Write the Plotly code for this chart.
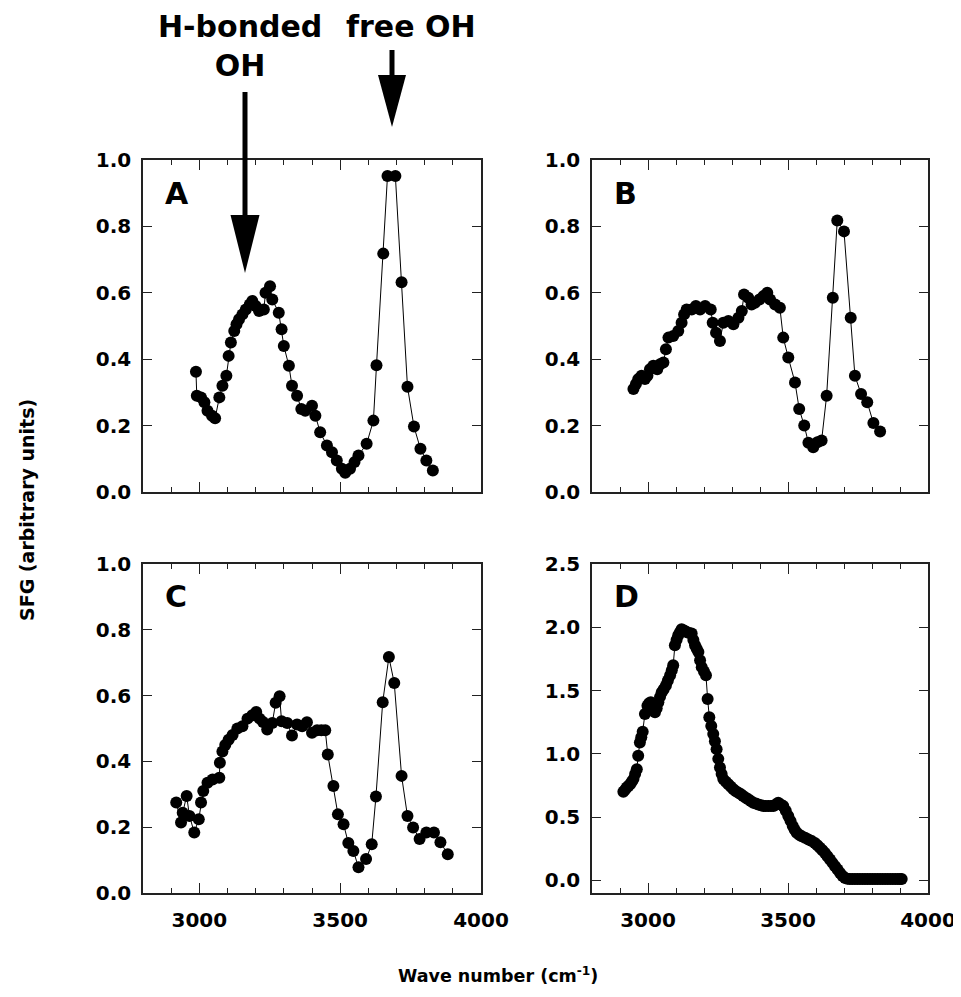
import plotly.graph_objects as go
from plotly.subplots import make_subplots

# ---------------- data ----------------
a_wn = [2988, 2991, 3006, 3018, 3029, 3045, 3056, 3071, 3082, 3096, 3104, 3112, 3124, 3132,
        3141, 3153, 3165, 3179, 3188, 3200, 3212, 3229, 3235, 3251, 3259, 3282, 3292, 3300,
        3318, 3329, 3347, 3362, 3376, 3400, 3412, 3429, 3453, 3471, 3488, 3506, 3518, 3535,
        3551, 3565, 3594, 3618, 3629, 3653, 3668, 3696, 3718, 3739, 3762, 3785, 3806, 3829]
a_val = [0.362, 0.29, 0.285, 0.27, 0.245, 0.23, 0.222, 0.285, 0.32, 0.35, 0.41, 0.45, 0.485, 0.505,
         0.52, 0.535, 0.55, 0.565, 0.575, 0.56, 0.545, 0.55, 0.60, 0.62, 0.58, 0.54, 0.49, 0.44,
         0.38, 0.32, 0.29, 0.25, 0.245, 0.26, 0.23, 0.18, 0.14, 0.12, 0.095, 0.07, 0.058, 0.07,
         0.09, 0.11, 0.145, 0.215, 0.382, 0.718, 0.952, 0.952, 0.632, 0.317, 0.197, 0.13, 0.095, 0.065]

b_wn = [2948, 2957, 2965, 2977, 2989, 2998, 3007, 3019, 3033, 3043, 3055, 3064, 3073, 3090,
        3108, 3120, 3129, 3138, 3156, 3171, 3186, 3204, 3224, 3231, 3243, 3257, 3269, 3287,
        3305, 3323, 3335, 3343, 3358, 3370, 3382, 3398, 3412, 3426, 3436, 3454, 3471, 3483,
        3501, 3525, 3540, 3558, 3573, 3590, 3605, 3620, 3638, 3660, 3676, 3700, 3724, 3739,
        3761, 3783, 3805, 3829]
b_val = [0.31, 0.325, 0.34, 0.35, 0.34, 0.35, 0.37, 0.38, 0.37, 0.385, 0.39, 0.43, 0.465, 0.47,
         0.485, 0.51, 0.535, 0.55, 0.55, 0.56, 0.55, 0.56, 0.55, 0.51, 0.48, 0.455, 0.51, 0.515,
         0.505, 0.525, 0.545, 0.595, 0.585, 0.565, 0.57, 0.58, 0.59, 0.60, 0.58, 0.565, 0.555, 0.465,
         0.405, 0.33, 0.25, 0.20, 0.148, 0.135, 0.15, 0.155, 0.29, 0.585, 0.818, 0.785, 0.525, 0.35,
         0.295, 0.27, 0.208, 0.182]

c_wn = [2918, 2935, 2941, 2955, 2965, 2982, 2998, 3006, 3014, 3029, 3047, 3071, 3073, 3082,
        3092, 3104, 3118, 3135, 3153, 3171, 3188, 3202, 3214, 3226, 3241, 3259, 3271, 3285,
        3292, 3312, 3329, 3347, 3365, 3382, 3400, 3418, 3433, 3447, 3456, 3476, 3492, 3512,
        3529, 3547, 3565, 3592, 3612, 3627, 3651, 3673, 3692, 3718, 3739, 3759, 3782, 3806,
        3833, 3856, 3882]
c_val = [0.275, 0.214, 0.244, 0.295, 0.234, 0.184, 0.224, 0.275, 0.31, 0.335, 0.345, 0.35, 0.396, 0.43,
         0.45, 0.466, 0.48, 0.50, 0.507, 0.53, 0.54, 0.55, 0.53, 0.52, 0.497, 0.517, 0.578, 0.598,
         0.522, 0.517, 0.479, 0.512, 0.507, 0.519, 0.487, 0.495, 0.495, 0.495, 0.421, 0.325, 0.239, 0.209,
         0.152, 0.128, 0.078, 0.103, 0.148, 0.293, 0.58, 0.717, 0.638, 0.356, 0.234, 0.199, 0.164, 0.184,
         0.184, 0.154, 0.118]

d_wn = [2912, 2918, 2924, 2930, 2936, 2942, 2948, 2954, 2960, 2965, 2971, 2976, 2981, 2989,
        2998, 3004, 3010, 3017, 3025, 3031, 3037, 3043, 3049, 3056, 3064, 3071, 3079, 3085,
        3090, 3096, 3102, 3108, 3114, 3120, 3129, 3138, 3147, 3156, 3162, 3168, 3174, 3180,
        3186, 3192, 3200, 3207, 3213, 3219, 3226, 3233, 3239, 3245, 3251, 3257, 3263, 3269,
        3278, 3287, 3296, 3305, 3314, 3323, 3332, 3340, 3349, 3358, 3367, 3376, 3385, 3394,
        3403, 3412, 3421, 3430, 3439, 3448, 3456, 3465, 3474, 3483, 3492, 3501, 3509, 3517,
        3524, 3531, 3540, 3549, 3561, 3573, 3585, 3596, 3605, 3614, 3623, 3632, 3641, 3650,
        3659, 3668, 3677, 3686, 3695, 3704, 3712, 3721, 3730, 3739, 3748, 3757, 3766, 3775,
        3784, 3793, 3802, 3811, 3820, 3829, 3838, 3847, 3856, 3865, 3874, 3883, 3892, 3900, 3906]
d_val = [0.70, 0.715, 0.733, 0.745, 0.76, 0.78, 0.80, 0.84, 0.878, 0.984, 1.09, 1.13, 1.175, 1.315,
         1.38, 1.40, 1.407, 1.37, 1.328, 1.36, 1.407, 1.45, 1.487, 1.51, 1.54, 1.58, 1.62, 1.66,
         1.70, 1.857, 1.90, 1.937, 1.96, 1.984, 1.975, 1.963, 1.955, 1.95, 1.90, 1.857, 1.83, 1.804,
         1.74, 1.685, 1.65, 1.62, 1.434, 1.288, 1.22, 1.156, 1.10, 1.037, 0.96, 0.892, 0.84, 0.80,
         0.78, 0.76, 0.74, 0.72, 0.705, 0.693, 0.68, 0.667, 0.653, 0.64, 0.627, 0.614, 0.607, 0.60,
         0.594, 0.587, 0.587, 0.587, 0.587, 0.587, 0.60, 0.614, 0.60, 0.587, 0.55, 0.508, 0.47, 0.429,
         0.40, 0.376, 0.36, 0.349, 0.336, 0.323, 0.31, 0.296, 0.277, 0.257, 0.237, 0.217, 0.19, 0.164,
         0.138, 0.111, 0.085, 0.058, 0.035, 0.018, 0.012, 0.01, 0.01, 0.01, 0.01, 0.01, 0.01, 0.01,
         0.01, 0.01, 0.01, 0.01, 0.01, 0.01, 0.01, 0.01, 0.01, 0.01, 0.01, 0.01, 0.01, 0.01, 0.01]

panels = [("A", a_wn, a_val), ("B", b_wn, b_val), ("C", c_wn, c_val), ("D", d_wn, d_val)]
y_ranges = [[0, 1], [0, 1], [0, 1], [-0.1, 2.5]]
y_dticks = [0.2, 0.2, 0.2, 0.5]
x_range = [2800, 4000]
x_ticks = [3000, 3500, 4000]

# ---------------- figure ----------------
WIN_W, WIN_H = 961, 997
OFF = 8                      # default page body margin
FW, FH = WIN_W - OFF, WIN_H - OFF
FONT = "DejaVu Sans"


def px(xp):
    """window pixel -> paper fraction"""
    return (xp - OFF) / FW


def py(yp):
    return 1 - (yp - OFF) / FH


fig = make_subplots(rows=2, cols=2)

for i, (name, wn, val) in enumerate(panels):
    r, c = i // 2 + 1, i % 2 + 1
    fig.add_trace(go.Scatter(x=wn, y=val, mode="lines+markers",
                             line=dict(color="black", width=1),
                             marker=dict(color="black", size=12),
                             showlegend=False), row=r, col=c)

xdom = [[px(143), px(481)], [px(592), px(928)]]
ydom = [[py(492), py(160)], [py(893), py(564)]]

axis_common = dict(showgrid=False, zeroline=False, showline=True, linecolor="#222",
                   linewidth=1.5, mirror="ticks", ticks="inside", tickcolor="#222",
                   tickwidth=1.3, automargin=False)
tickfont = dict(family=FONT, size=20, color="black", weight="bold")

for i in range(4):
    r, c = i // 2, i % 2
    suffix = "" if i == 0 else str(i + 1)
    fig.layout["xaxis" + suffix].update(
        domain=xdom[c], range=x_range, tickvals=x_ticks, ticklen=10,
        showticklabels=(r == 1), tickfont=tickfont, ticklabelstandoff=8,
        minor=dict(dtick=100, tick0=2800, ticklen=5, ticks="inside", tickcolor="#222",
                   tickwidth=1.2, showgrid=False),
        **axis_common)
    fig.layout["yaxis" + suffix].update(
        domain=ydom[r], range=y_ranges[i], dtick=y_dticks[i], tick0=0, ticklen=9,
        tickformat=".1f", tickfont=tickfont, ticklabelstandoff=6,
        **axis_common)
    fig.add_annotation(text=panels[i][0], xref=f"x{suffix} domain", yref=f"y{suffix} domain",
                       x=0.06, y=0.90, xanchor="left", yanchor="middle", showarrow=False,
                       font=dict(family=FONT, size=30, color="black", weight="bold"))

# axis titles
fig.add_annotation(text="SFG (arbitrary units)", xref="paper", yref="paper",
                   x=px(27), y=py(510), textangle=-90, showarrow=False,
                   xanchor="center", yanchor="middle",
                   font=dict(family=FONT, size=19, color="black", weight="bold"))
fig.add_annotation(text="Wave number (cm<sup>-1</sup>)", xref="paper", yref="paper",
                   x=px(498), y=py(975), showarrow=False,
                   xanchor="center", yanchor="middle",
                   font=dict(family=FONT, size=17.5, color="black", weight="bold"))

# peak labels and arrows
lab_font = dict(family=FONT, size=30, color="black", weight="bold")
fig.add_annotation(text="H-bonded<br>OH", xref="paper", yref="paper", x=px(240), y=1,
                   showarrow=False, xanchor="center", yanchor="top", font=lab_font,
                   borderpad=0)
fig.add_annotation(text="free OH", xref="paper", yref="paper", x=px(411), y=1,
                   showarrow=False, xanchor="center", yanchor="top", font=lab_font,
                   borderpad=0)


def arrow(xc, y0, yh, yt, half):
    fig.add_shape(type="line", xref="paper", yref="paper", x0=px(xc), x1=px(xc),
                  y0=py(y0), y1=py(yh + 2), line=dict(color="black", width=5))
    fig.add_shape(type="path", xref="paper", yref="paper",
                  path=f"M {px(xc - half)} {py(yh)} L {px(xc + half)} {py(yh)} L {px(xc)} {py(yt)} Z",
                  fillcolor="black", line=dict(color="black", width=0))


arrow(245, 92, 215, 273, 14.5)
arrow(392, 50, 75, 127, 14)

fig.update_layout(width=FW, height=FH, margin=dict(l=0, r=0, t=0, b=0, autoexpand=False),
                  plot_bgcolor="white", paper_bgcolor="white")

fig.write_html("out.html")
